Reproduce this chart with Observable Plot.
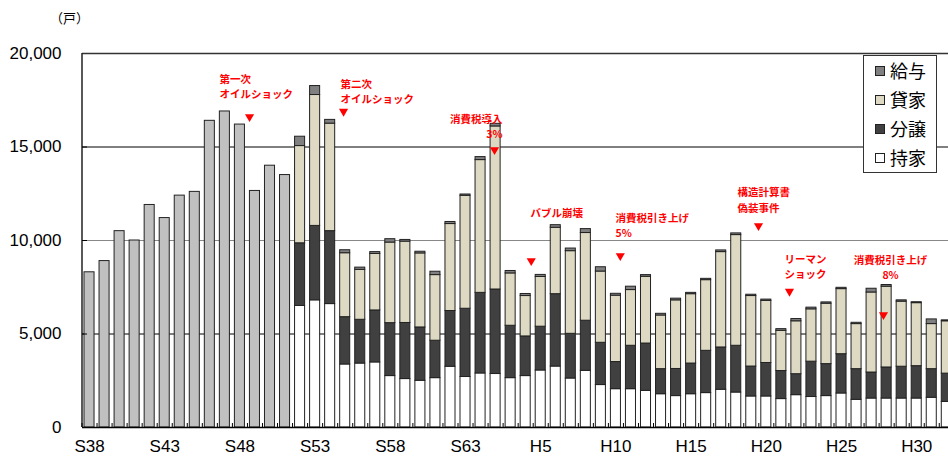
<!DOCTYPE html>
<html><head><meta charset="utf-8">
<script src="https://cdn.jsdelivr.net/npm/d3@7"></script>
<script src="https://cdn.jsdelivr.net/npm/@observablehq/plot@0.6"></script>
<style>
html,body{margin:0;padding:0;background:#fff;overflow:hidden;}
#wrap{position:relative;width:948px;height:457px;overflow:hidden;}
#wrap svg{position:absolute;left:0;top:0;}
#unit{position:absolute;left:50px;top:11px;font:13px/13px "Noto Sans CJK JP";color:#000;z-index:2;}
#legend{position:absolute;left:863px;top:55px;width:72px;height:116px;border:1px solid #333;background:#fff;z-index:2;}
#legend .row{height:29px;display:flex;align-items:center;font:18px/29px "Noto Sans CJK JP";color:#000;}
#legend .sw{width:8px;height:8px;border:1px solid #222;margin:0 5px 0 11px;}
</style></head><body>
<div id="wrap"><div id="unit">（戸）</div><div id="legend"></div></div>
<script>
// ---- data ----
const totalYears = d3.range(1963, 1977);           // S38..S51 (total only)
const totalValues = [8300, 8900, 10500, 10000, 11900, 11200, 12400, 12600, 16400, 16900, 16200, 12650, 14000, 13500];

const stackYears = d3.range(1977, 2021);           // S52..R2
const mochiie = [6500, 6800, 6600, 3370, 3420, 3480, 2750, 2590, 2500, 2640, 3250, 2700, 2890, 2860, 2640, 2750, 3050, 3260, 2620, 3030, 2270, 2050, 2050, 1960, 1780, 1680, 1780, 1840, 2020, 1870, 1660, 1660, 1520, 1730, 1630, 1680, 1820, 1480, 1550, 1550, 1550, 1550, 1590, 1370];
const bunjo = [3350, 3980, 3900, 2530, 2340, 2780, 2830, 3000, 2850, 2000, 2980, 3650, 4310, 4520, 2800, 2120, 2340, 3870, 2390, 2680, 2260, 1450, 2320, 2530, 1340, 1450, 1640, 2260, 2260, 2500, 1600, 1790, 1500, 1120, 1890, 1710, 2100, 1640, 1390, 1660, 1700, 1730, 1530, 1510];
const kashiya = [5200, 7000, 5750, 3420, 2670, 3020, 4310, 4350, 3960, 3510, 4650, 6040, 7100, 8720, 2800, 2160, 2660, 3550, 4420, 4690, 3810, 3550, 2980, 3570, 2870, 3670, 3710, 3780, 5100, 5920, 3770, 3320, 2150, 2830, 2800, 3230, 3480, 2410, 4280, 4320, 3480, 3370, 2410, 2800];
const kyuyo = [500, 480, 200, 160, 120, 100, 180, 90, 90, 180, 110, 70, 160, 140, 130, 110, 110, 140, 140, 210, 230, 100, 180, 90, 90, 90, 70, 70, 90, 90, 70, 70, 90, 120, 90, 70, 70, 70, 200, 90, 70, 50, 250, 50];

const seriesKeys = ["持家", "分譲", "貸家", "給与"];
const seriesColors = ["#ffffff", "#404040", "#ddd9c3", "#808080"];
const totalKey = "総数";
const totalColor = "#c0c0c0";

const xTickYears = [1963, 1968, 1973, 1978, 1983, 1988, 1993, 1998, 2003, 2008, 2013, 2018];
const xTickLabels = ["S38", "S43", "S48", "S53", "S58", "S63", "H5", "H10", "H15", "H20", "H25", "H30"];
const yTicks = [0, 5000, 10000, 15000, 20000];

const annStart = [
  {x: 1971.64, y: 18301, text: "第一次\nオイルショック"},
  {x: 1979.69, y: 18033, text: "第二次\nオイルショック"},
  {x: 1992.32, y: 11509, text: "バブル崩壊"},
  {x: 1997.97, y: 10840, text: "消費税引き上げ\n5%"},
  {x: 2006.08, y: 12218, text: "構造計算書\n偽装事件"},
  {x: 2009.21, y: 8675, text: "リーマン\nショック"}
];
const annEnd = [
  {x: 1990.46, y: 16148, text: "消費税導入\n3%"}
];
const annMiddle = [
  {x: 2016.26, y: 8608, text: "消費税引き上げ\n8%"}
];
const markers = [
  {x: 1973.64, y: 16616}, {x: 1979.89, y: 16900}, {x: 1989.93, y: 14851},
  {x: 1992.37, y: 8915}, {x: 1998.29, y: 9183}, {x: 2007.48, y: 10787},
  {x: 2009.54, y: 7273}, {x: 2015.79, y: 6027}
];

// ---- build table ----
const rows = [];
totalYears.forEach((yr, i) => rows.push({year: yr, key: totalKey, y1: 0, y2: totalValues[i]}));
const seriesVals = [mochiie, bunjo, kashiya, kyuyo];
stackYears.forEach((yr, i) => {
  let acc = 0;
  seriesKeys.forEach((k, j) => {
    const v = seriesVals[j][i];
    rows.push({year: yr, key: k, y1: acc, y2: acc + v});
    acc += v;
  });
});
const boundaries = d3.range(1962.5, 2021.5, 1);
const labelOf = new Map(xTickYears.map((y, i) => [y, xTickLabels[i]]));

const annStyle = {x: "x", y: "y", text: "text", fill: "#ff0000", fontWeight: "bold", fontSize: 10.5,
  lineHeight: 1.46, lineAnchor: "middle", fontFamily: "Noto Sans CJK JP"};

const step = 15.04;
const chart = Plot.plot({
  width: 948, height: 457,
  marginTop: 53, marginBottom: 30, marginLeft: 82, marginRight: 0,
  style: {fontFamily: "Liberation Sans, Arial, sans-serif", background: "transparent"},
  x: {type: "linear", domain: [1962.5, 2020.5], range: [81.5, 81.5 + 58 * step], label: null},
  y: {domain: [0, 20000], label: null},
  color: {domain: [totalKey, ...seriesKeys], range: [totalColor, ...seriesColors]},
  marks: [
    Plot.ruleY([5000, 15000], {stroke: "#000", strokeWidth: 1}),
    Plot.ruleY([10000], {stroke: "#888", strokeWidth: 1.2}),
    Plot.ruleY([20000], {stroke: "#333", strokeWidth: 1.5}),
    Plot.rect(rows, {
      x1: d => d.year - 0.5, x2: d => d.year + 0.5, y1: "y1", y2: "y2",
      fill: "key", stroke: "#222", strokeWidth: 1, insetLeft: 2.5, insetRight: 2.5
    }),
    Plot.ruleX([1962.5], {stroke: "#222", strokeWidth: 1.5}),
    Plot.ruleY([0], {stroke: "#000", strokeWidth: 1.5}),
    Plot.axisY({ticks: yTicks, tickFormat: d3.format(","), tickSize: 0, tickPadding: 21, fontSize: 17}),
    Plot.axisY({ticks: [5000, 10000, 15000], tickSize: 5, dx: 5, tickFormat: () => "", stroke: "#000"}),
    Plot.axisX({ticks: boundaries, tickSize: 4, dy: -4, tickFormat: () => "", stroke: "#000"}),
    Plot.axisX({ticks: xTickYears, tickFormat: d => labelOf.get(d), tickSize: 0, tickPadding: 12, fontSize: 17}),
    Plot.text(annStart, {...annStyle, textAnchor: "start"}),
    Plot.text(annEnd, {...annStyle, textAnchor: "end"}),
    Plot.text(annMiddle, {...annStyle, textAnchor: "middle"}),
    Plot.dot(markers, {x: "x", y: "y", symbol: "triangle", r: 3.4, fill: "#ff0000", rotate: 180})
  ]
});
document.getElementById("wrap").appendChild(chart);

// legend (top to bottom: 給与, 貸家, 分譲, 持家)
const legend = document.getElementById("legend");
[...seriesKeys].reverse().forEach(k => {
  const row = document.createElement("div");
  row.className = "row";
  const sw = document.createElement("span");
  sw.className = "sw";
  sw.style.background = seriesColors[seriesKeys.indexOf(k)];
  row.appendChild(sw);
  row.appendChild(document.createTextNode(k));
  legend.appendChild(row);
});
</script>
</body></html>
